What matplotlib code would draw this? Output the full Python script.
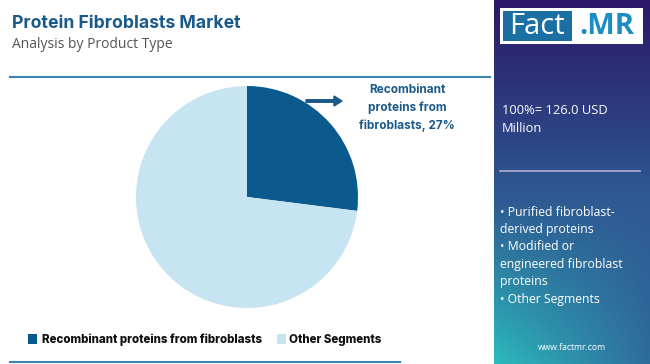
import numpy as np
import matplotlib.pyplot as plt
from matplotlib.patches import Rectangle, FancyArrow

# dados
segmentos = ['Recombinant proteins from fibroblasts', 'Other Segments']
valores = [27, 73]
cores = ['#0b5a8e', '#c6e4f2']
outros = ['• Purified fibroblast-', 'derived proteins', '• Modified or',
          'engineered fibroblast', 'proteins', '• Other Segments']
total_txt = ['100%= 126.0 USD', 'Million']

W, H = 650, 364
fig = plt.figure(figsize=(W / 100, H / 100), dpi=100)

# eixo de fundo em pixels
bg = fig.add_axes([0, 0, 1, 1])
bg.set_xlim(0, W)
bg.set_ylim(H, 0)
bg.axis('off')

# painel lateral com gradiente
ny, nx = 200, 60
yy, xx = np.mgrid[0:1:ny * 1j, 0:1:nx * 1j]
topo = np.array([0x2c, 0x18, 0x68]) / 255
meio = np.array([0x2e, 0x5a, 0x92]) / 255
baixo_esq = np.array([0x2c, 0xba, 0xbd]) / 255
baixo_dir = np.array([0x2f, 0x6c, 0x9c]) / 255
t = yy[..., None]
baixo = baixo_esq * (1 - xx[..., None]) + baixo_dir * xx[..., None]
s = np.clip(t / 0.55, 0, 1)
s2 = np.clip((t - 0.55) / 0.45, 0, 1)
img = np.where(t < 0.55, topo * (1 - s) + meio * s, meio * (1 - s2) + baixo * s2)
bg.imshow(img, extent=[494, W, H, 0], aspect='auto', zorder=0)

# logo
bg.add_patch(Rectangle((500, 8), 143, 36, facecolor='white', zorder=2))
bg.add_patch(Rectangle((503, 11), 69, 30, facecolor='#1b6fa3', zorder=3))
bg.text(537, 27, 'Fact', color='white', fontsize=21, ha='center', va='center',
        family='Open Sans', zorder=4)
bg.text(607, 27, '.MR', color='#1b8cc4', fontsize=21, ha='center', va='center',
        family='Open Sans', fontweight='bold', zorder=4)

# textos do painel
bg.text(502, 110, total_txt[0], color='white', fontsize=9.3, va='center', family='Open Sans')
bg.text(502, 129, total_txt[1], color='white', fontsize=9.3, va='center', family='Open Sans')
bg.plot([500, 640], [171, 171], color='#a7a7c8', lw=1.3)
for i, linha in enumerate(outros):
    bg.text(500, 212 + i * 17.5, linha, color='white', fontsize=8.8, va='center',
            family='Open Sans')
bg.text(572, 348, 'www.factmr.com', color='white', fontsize=6.2, ha='center',
        va='center', family='Open Sans')

# cabeçalho
bg.text(12, 24, 'Protein Fibroblasts Market', color='#1a5a8a', fontsize=12.7,
        fontweight='bold', va='center', family='Inter')
bg.text(12, 45, 'Analysis by Product Type', color='#555555', fontsize=10,
        va='center', family='Open Sans')
bg.plot([10, 490], [76.5, 76.5], color='#3a82b0', lw=1.5)
bg.plot([10, 400], [362, 362], color='#3a82b0', lw=1.5)

# seta e rótulo
bg.add_patch(FancyArrow(306, 101, 28, 0, width=2.5, head_width=10, head_length=8,
                        color='#1a5a8a', length_includes_head=False))
bg.text(407, 108, 'Recombinant\nproteins from\nfibroblasts, %d%%' % valores[0],
        color='#1a5a8a', fontsize=8.5, fontweight='bold', ha='center', va='center',
        linespacing=1.6, family='Inter')

# legenda
lx = [28, 277]
tx = [42, 289]
for i in range(2):
    bg.add_patch(Rectangle((lx[i], 334), 9, 10, facecolor=cores[i]))
    bg.text(tx[i], 339.5, segmentos[i], color='#111111', fontsize=8.3,
            fontweight='heavy', va='center', family='Inter')

# pizza
cx, cy, r = 247, 197, 111
ax = fig.add_axes([(cx - r) / W, (H - cy - r) / H, 2 * r / W, 2 * r / H])
ax.pie(valores, colors=cores, startangle=90, counterclock=False, radius=1)
ax.set_xlim(-1, 1)
ax.set_ylim(-1, 1)
ax.set_aspect('equal')
ax.axis('off')

plt.savefig('out.png', dpi=100)
